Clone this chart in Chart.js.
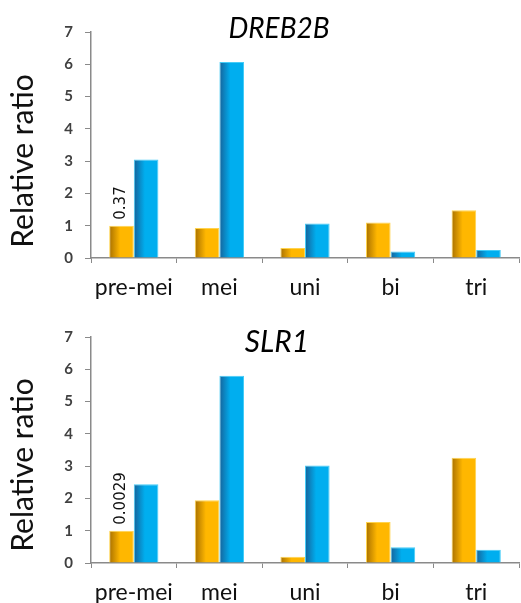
<!DOCTYPE html>
<html>
<head>
<meta charset="utf-8">
<script src="https://cdn.jsdelivr.net/npm/chart.js@4"></script>
<style>
  html, body { margin: 0; padding: 0; background: #fff; }
  .panel { position: absolute; left: 0; width: 521px; }
  canvas { display: block; }
</style>
</head>
<body>
<div class="panel" style="top:0;height:300px"><canvas id="c1" width="521" height="300"></canvas></div>
<div class="panel" style="top:300px;height:303px"><canvas id="c2" width="521" height="303"></canvas></div>
<script>
// Developmental stages of the anther
const stages = ['pre-mei', 'mei', 'uni', 'bi', 'tri'];

// DREB2B relative expression
const dreb2bOrange = [1.0, 0.93, 0.31, 1.1, 1.48];
const dreb2bBlue   = [3.05, 6.07, 1.07, 0.2, 0.25];

// SLR1 relative expression
const slr1Orange = [1.0, 1.94, 0.19, 1.27, 3.26];
const slr1Blue   = [2.44, 5.8, 3.02, 0.49, 0.41];

const yTicks = [0, 1, 2, 3, 4, 5, 6, 7];
const genes = ['DREB2B', 'SLR1'];
// absolute level of the reference sample (set to 1)
const baseLabels = ['0.37', '0.0029'];

Chart.defaults.font.family = 'Lato, "Open Sans", sans-serif';

// horizontal shading across each bar, dark on the left edge
function barFill(dark, light) {
  return (c) => {
    if (c.type !== 'data') return light;
    const chart = c.chart;
    const el = chart.getDatasetMeta(c.datasetIndex).data[c.dataIndex];
    if (!el || !Number.isFinite(el.x) || !Number.isFinite(el.width)) return light;
    const g = chart.ctx.createLinearGradient(el.x - el.width / 2, 0, el.x + el.width / 2, 0);
    g.addColorStop(0, dark);
    g.addColorStop(0.45, light);
    g.addColorStop(1, light);
    return g;
  };
}

const annotate = {
  id: 'annotate',
  afterDraw(chart, args, o) {
    const ctx = chart.ctx;
    ctx.save();
    ctx.fillStyle = '#000';
    ctx.textAlign = 'center';
    ctx.textBaseline = 'middle';
    ctx.font = 'italic ' + o.titleSize + 'px Lato';
    ctx.fillText(o.title, o.titleX, o.titleY);
    ctx.restore();

    ctx.save();
    ctx.fillStyle = '#111';
    ctx.font = '30px Lato';
    ctx.textAlign = 'center';
    ctx.textBaseline = 'middle';
    ctx.translate(o.labelX, o.labelY);
    ctx.rotate(-Math.PI / 2);
    ctx.fillText('Relative ratio', 0, 0);
    ctx.restore();

    const el = chart.getDatasetMeta(0).data[0];
    ctx.save();
    ctx.fillStyle = '#111';
    ctx.font = '15px "DejaVu Sans"';
    ctx.textAlign = 'left';
    ctx.textBaseline = 'middle';
    ctx.translate(el.x, el.y - 6);
    ctx.rotate(-Math.PI / 2);
    ctx.fillText(o.base, 0, 0);
    ctx.restore();
  }
};

function makeChart(id, orange, blue, gene, base, pad, xHeight, title, labelY) {
  const chart = new Chart(document.getElementById(id), {
    type: 'bar',
    data: {
      labels: stages,
      datasets: [
        {
          data: orange,
          backgroundColor: barFill('#a87000', '#ffb700'),
          borderColor: '#ffd34d',
          borderWidth: 1,
          barPercentage: 1.0,
          categoryPercentage: 0.575
        },
        {
          data: blue,
          backgroundColor: barFill('#16629a', '#00aeef'),
          borderColor: '#45ccf7',
          borderWidth: 1,
          barPercentage: 1.0,
          categoryPercentage: 0.575
        }
      ]
    },
    options: {
      responsive: false,
      animation: false,
      devicePixelRatio: 1,
      layout: { padding: { left: 0, right: 2, top: pad, bottom: 0 } },
      plugins: {
        legend: { display: false },
        tooltip: { enabled: false },
        annotate: {
          title: gene, titleX: title[0], titleY: title[1], titleSize: title[2],
          labelX: 23, labelY: labelY, base: base
        }
      },
      scales: {
        x: {
          grid: { display: true, drawOnChartArea: false, offset: true, tickLength: 5, color: '#8a8a8a' },
          border: { color: '#8a8a8a', width: 1.5 },
          ticks: { color: '#111', font: { size: 23 }, padding: 11, maxRotation: 0, autoSkip: false },
          afterFit: (s) => { s.height = xHeight; }
        },
        y: {
          min: 0, max: 7,
          afterBuildTicks: (s) => { s.ticks = yTicks.map(v => ({ value: v })); },
          grid: { display: true, drawOnChartArea: false, tickLength: 6, color: '#8a8a8a' },
          border: { color: '#8a8a8a', width: 1.5 },
          ticks: { color: '#404040', font: { size: 15, weight: 'bold' }, padding: 12 },
          afterFit: (s) => { s.width = 91; }
        }
      }
    },
    plugins: [annotate]
  });
  chart.update('none');
  return chart;
}

makeChart('c1', dreb2bOrange, dreb2bBlue, genes[0], baseLabels[0], 32, 42, [279, 29, 28], 161);
makeChart('c2', slr1Orange, slr1Blue, genes[1], baseLabels[1], 37, 40, [277, 42, 30], 165);
</script>
</body>
</html>
